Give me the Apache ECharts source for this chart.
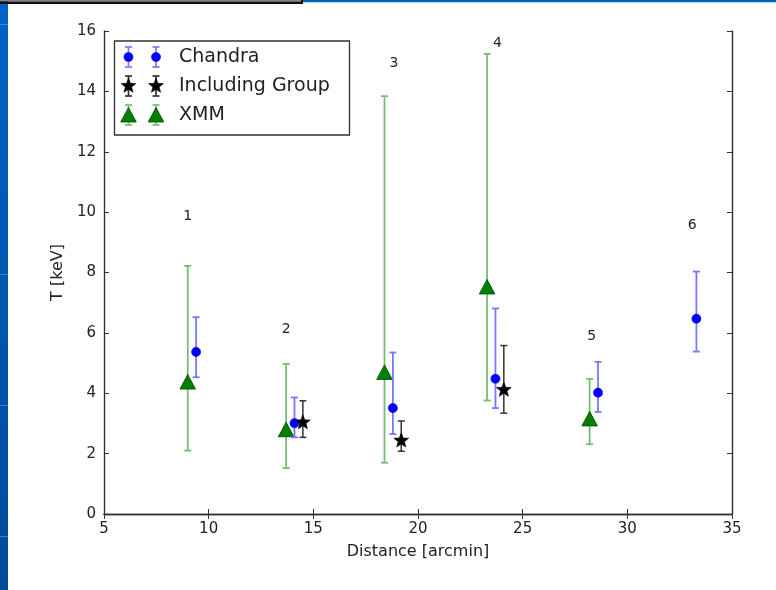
<!DOCTYPE html>
<html>
<head>
<meta charset="utf-8">
<script src="https://cdn.jsdelivr.net/npm/echarts@6/dist/echarts.min.js"></script>
<style>html,body{margin:0;padding:0;background:#fff}#c{width:776px;height:590px}</style>
</head>
<body>
<div id="c"></div>
<script>
// ---- data ----
const chandraX  = [9.4, 14.1, 18.8, 23.7, 28.6, 33.3];
const chandraT  = [5.37, 3.01, 3.51, 4.48, 4.02, 6.47];
const chandraLo = [4.53, 2.54, 2.65, 3.51, 3.38, 5.38];
const chandraHi = [6.52, 3.86, 5.35, 6.81, 5.04, 8.03];

const groupX  = [14.5, 19.2, 24.1];
const groupT  = [3.03, 2.43, 4.11];
const groupLo = [2.54, 2.08, 3.34];
const groupHi = [3.75, 3.08, 5.58];

const xmmX  = [9.0, 13.7, 18.4, 23.3, 28.2];
const xmmT  = [4.37, 2.79, 4.69, 7.52, 3.15];
const xmmLo = [2.10, 1.52, 1.70, 3.76, 2.31];
const xmmHi = [8.22, 4.97, 13.84, 15.24, 4.47];

const regionNames = ['1', '2', '3', '4', '5', '6'];
const regionX = [9.0, 13.7, 18.85, 23.8, 28.3, 33.1];
const regionY = [9.86, 6.1, 14.93, 15.6, 5.88, 9.55];

const seriesNames = ['Chandra', 'Including Group', 'XMM'];
const xTicks = [5, 10, 15, 20, 25, 30, 35];
const yTicks = [0, 2, 4, 6, 8, 10, 12, 14, 16];

// ---- helpers ----
const FONT = 'DejaVu Sans';
function starPoints(cx, cy, R, r) {
  const pts = [];
  for (let i = 0; i < 10; i++) {
    const a = -Math.PI / 2 + i * Math.PI / 5;
    const rad = i % 2 === 0 ? R : r;
    pts.push([cx + rad * Math.cos(a), cy + rad * Math.sin(a)]);
  }
  return pts;
}
function marker(kind, cx, cy, z) {
  let el;
  if (kind === 'circle') {
    el = {type: 'circle', shape: {cx: cx, cy: cy, r: 4.6}, style: {fill: '#0000ff', stroke: '#0000cc', lineWidth: 0.5}};
  } else if (kind === 'star') {
    el = {type: 'polygon', shape: {points: starPoints(cx, cy, 7.8, 3.3)}, style: {fill: '#000', stroke: '#000', lineWidth: 0.6}};
  } else {
    el = {type: 'polygon', shape: {points: [[cx, cy - 7.5], [cx - 7.8, cy + 7], [cx + 7.8, cy + 7]]},
          style: {fill: '#007f00', stroke: '#004400', lineWidth: 0.8}};
  }
  if (z !== undefined) el.z = z;
  return el;
}
function errbar(x, y1, y2, color, lw, cap, z) {
  const els = [
    {type: 'line', shape: {x1: x, y1: y1, x2: x, y2: y2}, style: {stroke: color, lineWidth: lw}},
    {type: 'line', shape: {x1: x - cap, y1: y1, x2: x + cap, y2: y1}, style: {stroke: color, lineWidth: lw}},
    {type: 'line', shape: {x1: x - cap, y1: y2, x2: x + cap, y2: y2}, style: {stroke: color, lineWidth: lw}}
  ];
  if (z !== undefined) els.forEach(e => { e.z = z; });
  return els;
}
function makeRender(kind, barColor, lw) {
  return function (params, api) {
    const p = api.coord([api.value(0), api.value(1)]);
    const lo = api.coord([api.value(0), api.value(2)]);
    const hi = api.coord([api.value(0), api.value(3)]);
    return {type: 'group', children: errbar(p[0], hi[1], lo[1], barColor, lw, 3.5).concat([marker(kind, p[0], p[1])])};
  };
}
function rows(xs, ts, los, his) { return xs.map((x, i) => [x, ts[i], los[i], his[i]]); }

// ---- legend (graphic) ----
const legendKinds = ['circle', 'star', 'triangle'];
const legendBar = ['#7878ff', '#333333', '#74bd74'];
const legendRowY = [57, 86, 115];
const legendEls = [{type: 'rect', shape: {x: 114.5, y: 41, width: 235, height: 94}, style: {fill: '#fff', stroke: '#333', lineWidth: 1.3}, z: 50}];
legendKinds.forEach((k, i) => {
  const y = legendRowY[i];
  [128.5, 156].forEach(x => {
    errbar(x, y - 10, y + 10, legendBar[i], 1.7, 3.5, 51).forEach(e => legendEls.push(e));
    legendEls.push(marker(k, x, y, 52));
  });
  legendEls.push({type: 'text', z: 52, style: {x: 179, y: y, text: seriesNames[i], font: '19px "' + FONT + '"', fill: '#222', verticalAlign: 'middle'}});
});

// ---- decorations ----
const deco = [
  {type: 'rect', shape: {x: 0, y: 0, width: 8, height: 590}, z: 60,
   style: {fill: new echarts.graphic.LinearGradient(0, 0, 0, 1, [{offset: 0, color: '#0062c8'}, {offset: 1, color: '#004b98'}])}},
  {type: 'rect', shape: {x: 0, y: 24, width: 8, height: 1}, z: 61, style: {fill: 'rgba(120,170,230,0.5)'}},
  {type: 'rect', shape: {x: 0, y: 274, width: 8, height: 1}, z: 61, style: {fill: 'rgba(120,170,230,0.5)'}},
  {type: 'rect', shape: {x: 0, y: 405, width: 8, height: 1}, z: 61, style: {fill: 'rgba(120,170,230,0.5)'}},
  {type: 'rect', shape: {x: 0, y: 536, width: 8, height: 1}, z: 61, style: {fill: 'rgba(120,170,230,0.5)'}},
  {type: 'rect', shape: {x: 0, y: 0, width: 303, height: 1.5}, z: 62, style: {fill: '#888'}},
  {type: 'rect', shape: {x: 0, y: 1.5, width: 303, height: 2.5}, z: 62, style: {fill: '#111'}},
  {type: 'rect', shape: {x: 301, y: 0, width: 2, height: 4}, z: 62, style: {fill: '#111'}},
  {type: 'rect', shape: {x: 303, y: 0, width: 473, height: 2.2}, z: 62, style: {fill: '#0060c0'}}
];

const axisLine = {show: true, lineStyle: {color: '#333', width: 1.4}};
const tick = {show: true, inside: true, length: 5, lineStyle: {color: '#333', width: 1}};
const labelStyle = {fontFamily: FONT, fontSize: 15, color: '#222'};

const option = {
  animation: false,
  backgroundColor: '#fff',
  grid: {left: 104, right: 44, top: 31, bottom: 76},
  xAxis: [
    {type: 'value', min: xTicks[0], max: xTicks[xTicks.length - 1], interval: 5, position: 'bottom',
     name: 'Distance [arcmin]', nameLocation: 'middle', nameGap: 30,
     nameTextStyle: {fontFamily: FONT, fontSize: 16, color: '#222'},
     axisLine: axisLine, axisTick: tick, splitLine: {show: false},
     axisLabel: Object.assign({margin: 8}, labelStyle)},
    {type: 'value', min: xTicks[0], max: xTicks[xTicks.length - 1], interval: 5, position: 'top',
     axisLine: axisLine, axisTick: tick, splitLine: {show: false}, axisLabel: {show: false}}
  ],
  yAxis: [
    {type: 'value', min: yTicks[0], max: yTicks[yTicks.length - 1], interval: 2, position: 'left',
     name: 'T [keV]', nameLocation: 'middle', nameGap: 34,
     nameTextStyle: {fontFamily: FONT, fontSize: 16, color: '#222'},
     axisLine: axisLine, axisTick: tick, splitLine: {show: false},
     axisLabel: Object.assign({margin: 8}, labelStyle)},
    {type: 'value', min: yTicks[0], max: yTicks[yTicks.length - 1], interval: 2, position: 'right',
     axisLine: axisLine, axisTick: tick, splitLine: {show: false}, axisLabel: {show: false}}
  ],
  series: [
    {name: seriesNames[0], type: 'custom', xAxisIndex: 0, yAxisIndex: 0, z: 3,
     data: rows(chandraX, chandraT, chandraLo, chandraHi), renderItem: makeRender('circle', '#7878ff', 1.8)},
    {name: seriesNames[1], type: 'custom', xAxisIndex: 0, yAxisIndex: 0, z: 4,
     data: rows(groupX, groupT, groupLo, groupHi), renderItem: makeRender('star', '#333333', 1.5)},
    {name: seriesNames[2], type: 'custom', xAxisIndex: 0, yAxisIndex: 0, z: 2,
     data: rows(xmmX, xmmT, xmmLo, xmmHi), renderItem: makeRender('triangle', '#74bd74', 1.8)},
    {name: 'regions', type: 'custom', xAxisIndex: 0, yAxisIndex: 0, z: 5,
     data: regionX.map((x, i) => [x, regionY[i], i]),
     renderItem: function (params, api) {
       const p = api.coord([api.value(0), api.value(1)]);
       return {type: 'text', style: {x: p[0], y: p[1], text: regionNames[api.value(2)],
         font: '14px "' + FONT + '"', fill: '#222', align: 'center', verticalAlign: 'middle'}};
     }}
  ],
  graphic: deco.concat(legendEls)
};

const chart = echarts.init(document.getElementById('c'), null, {renderer: 'canvas'});
chart.setOption(option);
</script>
</body>
</html>
